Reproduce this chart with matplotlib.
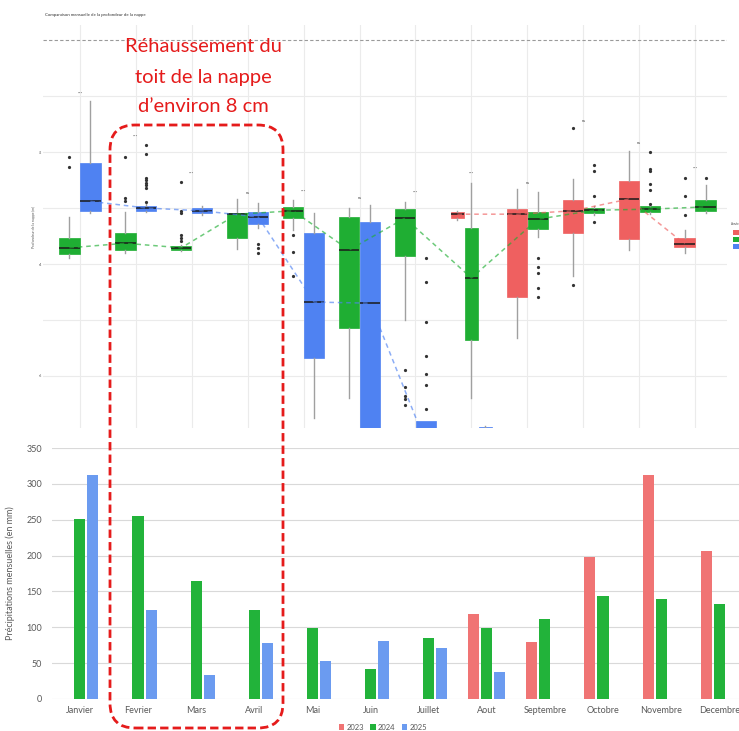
import matplotlib
matplotlib.use("Agg")
import matplotlib.pyplot as plt
from matplotlib.patches import FancyBboxPatch, Rectangle

# ---------------- data ----------------
months = ["Janvier", "Fevrier", "Mars", "Avril", "Mai", "Juin", "Juillet",
          "Aout", "Septembre", "Octobre", "Novembre", "Decembre"]
years = ["2023", "2024", "2025"]

# monthly precipitation (mm)
precip_2023 = [None, None, None, None, None, None, None, 119, 79, 198, 313, 207]
precip_2024 = [251, 255, 165, 124, 99, 42, 85, 99, 111, 144, 139, 133]
precip_2025 = [312, 124, 34, 78, 53, 81, 71, 37, None, None, None, None]

# groundwater depth boxplots (m) : per year, per month
med_2023 = [None]*7 + [-3.11, -3.11, -3.05, -2.84, -3.64]
q1_2023 = [None]*7 + [-3.18, -4.59, -3.45, -3.55, -3.70]
q3_2023 = [None]*7 + [-3.07, -3.02, -2.86, -2.52, -3.54]
lo_2023 = [None]*7 + [-3.21, -5.32, -4.21, -3.75, -3.80]
hi_2023 = [None]*7 + [-3.05, -2.66, -2.48, -1.98, -3.39]
out_2023 = [[]]*7 + [[], [], [-1.57, -4.38], [], [-2.46, -2.79, -3.13]]

med_2024 = [-3.71, -3.63, -3.71, -3.11, -3.05, -3.75, -3.18, -4.25, -3.20, -3.04, -3.02, -2.98]
q1_2024 = [-3.82, -3.75, -3.75, -3.54, -3.18, -5.14, -3.86, -5.36, -3.38, -3.09, -3.07, -3.05]
q3_2024 = [-3.54, -3.45, -3.68, -3.09, -2.98, -3.16, -3.02, -3.36, -3.07, -3.00, -2.96, -2.86]
lo_2024 = [-3.89, -3.80, -3.77, -3.73, -3.39, -6.39, -5.00, -6.39, -3.52, -3.13, -3.11, -3.09]
hi_2024 = [-3.16, -3.07, -3.66, -2.84, -2.86, -3.00, -2.89, -2.55, -2.71, -2.96, -2.93, -2.59]
out_2024 = [[-2.09, -2.27], [-2.09, -2.82, -2.88],
            [-2.54, -3.05, -3.09, -3.48, -3.54, -3.59], [],
            [-3.48, -3.79, -4.21], [], [-5.89, -6.20, -6.36, -6.41, -6.52], [],
            [-3.89, -4.05, -4.16, -4.43, -4.59], [-2.23, -2.34, -2.79, -3.25],
            [-2.00, -2.30, -2.34, -2.57, -2.68, -2.93], [-2.46]]

med_2025 = [-2.88, -3.00, -3.05, -3.16, -4.68, -4.70, -7.20, -7.10] + [None]*4
q1_2025 = [-3.05, -3.05, -3.09, -3.29, -5.68, -7.23, -7.50, -7.30] + [None]*4
q3_2025 = [-2.20, -2.96, -3.00, -3.07, -3.45, -3.25, -6.80, -6.91] + [None]*4
lo_2025 = [-3.09, -3.07, -3.13, -3.36, -6.75, -7.80, -7.80, -7.50] + [None]*4
hi_2025 = [-1.09, -2.93, -2.96, -2.91, -3.09, -2.95, -6.80, -6.90] + [None]*4
out_2025 = [[], [-1.88, -2.04, -2.46, -2.50, -2.55, -2.59, -2.64, -2.89], [],
            [-3.64, -3.71, -3.80], [], [],
            [-3.89, -4.32, -5.04, -5.64, -5.96, -6.16, -6.59], []] + [[]]*4

signif = ["***", "***", "***", "ns", "***", "ns", "***", "***", "ns", "ns", "ns", "***"]
signif_y = [-0.95, -1.73, -2.39, -2.73, -2.71, -2.82, -2.73, -2.39, -2.55, -1.45, -1.84, -2.30]

# ---------------- style ----------------
box_colors = {"2023": "#EF6060", "2024": "#1FAE33", "2025": "#4F82F2"}
bar_colors = {"2023": "#F07474", "2024": "#22B33A", "2025": "#6B9BF0"}

W, H = 739, 731
fig = plt.figure(figsize=(W/100, H/100), dpi=100)
plt.rcParams['font.family'] = ['Lato', 'DejaVu Sans']

def fx(px): return px / W
def fy(py): return 1 - py / H

# ---------------- top panel: boxplots ----------------
ax1 = fig.add_axes([fx(43), fy(428), fx(727) - fx(43), fy(25) - fy(428)])
ax1.set_xlim(-0.66, 11.57)
ax1.set_ylim(-6.93, 0.27)
for s in ax1.spines.values():
    s.set_visible(False)
ax1.set_xticks(range(12))
ax1.set_xticklabels([])
ax1.set_yticks([-1, -2, -3, -4, -5, -6])
ax1.set_yticklabels(["", "-2", "", "-4", "", "-6"], fontsize=2.5, color="#555555")
ax1.tick_params(length=0, pad=1)
ax1.grid(True, color="#ebebeb", linewidth=0.8)
ax1.set_axisbelow(True)
ax1.axhline(0, color="#9a9a9a", linestyle=(0, (3, 2)), linewidth=0.8)
ax1.set_ylabel("Profondeur de la nappe (m)", fontsize=2.5, color="#555555", labelpad=2)
fig.text(fx(45), fy(15), "Comparaison mensuelle de la profondeur de la nappe",
         fontsize=3.2, color="#333333", va="center", ha="left")

all_stats = {
    "2023": (med_2023, q1_2023, q3_2023, lo_2023, hi_2023, out_2023),
    "2024": (med_2024, q1_2024, q3_2024, lo_2024, hi_2024, out_2024),
    "2025": (med_2025, q1_2025, q3_2025, lo_2025, hi_2025, out_2025),
}

line_pts = {y: ([], []) for y in years}
for m in range(12):
    present = [y for y in years if all_stats[y][0][m] is not None]
    n = len(present)
    width = 0.75 / n
    for k, y in enumerate(present):
        med, q1, q3, lo, hi, out = (a[m] for a in all_stats[y])
        pos = m - 0.375 + width * (k + 0.5)
        st = [dict(med=med, q1=q1, q3=q3, whislo=lo, whishi=hi, fliers=out)]
        ax1.bxp(st, positions=[pos], widths=width * 0.97, patch_artist=True,
                showcaps=False, manage_ticks=False,
                boxprops=dict(facecolor=box_colors[y], edgecolor=box_colors[y], linewidth=0.5),
                medianprops=dict(color="#1a1a1a", linewidth=1.1),
                whiskerprops=dict(color="#a0a0a0", linewidth=1.0),
                flierprops=dict(marker="o", markersize=1.3, markerfacecolor="#333333",
                                markeredgecolor="#333333"))
        line_pts[y][0].append(pos)
        line_pts[y][1].append(med)
    ax1.text(m, signif_y[m], signif[m], fontsize=3, ha="center", va="center", color="#444444")

for y in years:
    ax1.plot(line_pts[y][0], line_pts[y][1], color=box_colors[y], alpha=0.65,
             linestyle=(0, (3, 2.5)), linewidth=1.1, zorder=5)

# small legend at right edge
fig.text(fx(731), fy(224), "Année", fontsize=2.2, color="#444444", va="center", ha="left")
for i, y in enumerate(years):
    fig.patches.append(Rectangle((fx(733), fy(235 + 7 * i)), fx(12), 5 / H,
                                 transform=fig.transFigure, facecolor=box_colors[y],
                                 edgecolor="none"))

# ---------------- bottom panel: bars ----------------
ax2 = fig.add_axes([fx(52), fy(699), 1 - fx(52), fy(448) - fy(699)])
ax2.set_xlim(-0.48, 11.34)
ax2.set_ylim(0, 350)
for s in ax2.spines.values():
    s.set_visible(False)
ax2.set_yticks(range(0, 351, 50))
ax2.tick_params(axis="y", length=0, labelsize=6.5, labelcolor="#595959", pad=7)
ax2.set_xticks(range(12))
ax2.set_xticklabels(months)
ax2.tick_params(axis="x", length=0, labelsize=6.5, labelcolor="#595959", pad=5)
ax2.grid(axis="y", color="#d9d9d9", linewidth=0.8)
ax2.set_axisbelow(True)
ax2.set_ylabel("Précipitations mensuelles (en mm)", fontsize=6.5, color="#595959")
ax2.yaxis.set_label_coords((15 - 52) / (W - 52), 0.5)

bw = 0.19
step = 0.225
for k, (y, vals) in enumerate(zip(years, [precip_2023, precip_2024, precip_2025])):
    xs = [m + (k - 1) * step for m in range(12) if vals[m] is not None]
    hs = [v for v in vals if v is not None]
    ax2.bar(xs, hs, width=bw, color=bar_colors[y], label=y)

leg = ax2.legend(loc="center", ncol=3, frameon=False, fontsize=5.5, handlelength=0.7,
                 handleheight=0.7, columnspacing=0.8, handletextpad=0.3, labelcolor="#595959")
leg.set_bbox_to_anchor((fx(383), fy(727)), transform=fig.transFigure)

# ---------------- red annotation ----------------
fig.patches.append(FancyBboxPatch((fx(110), fy(728)), fx(283) - fx(110), fy(125) - fy(728),
                                  boxstyle="round,pad=0,rounding_size=0.034",
                                  transform=fig.transFigure, facecolor="none",
                                  edgecolor="#E51B1B", linewidth=2.0,
                                  linestyle=(0, (3, 1.5)), zorder=10))
for txt, py in zip(["Réhaussement du", "toit de la nappe", "d\u2019environ 8 cm"], [46, 78, 106]):
    fig.text(fx(203), fy(py), txt, fontsize=14.5, color="#E51B1B", ha="center", va="center")

fig.savefig("out.png", dpi=100)
